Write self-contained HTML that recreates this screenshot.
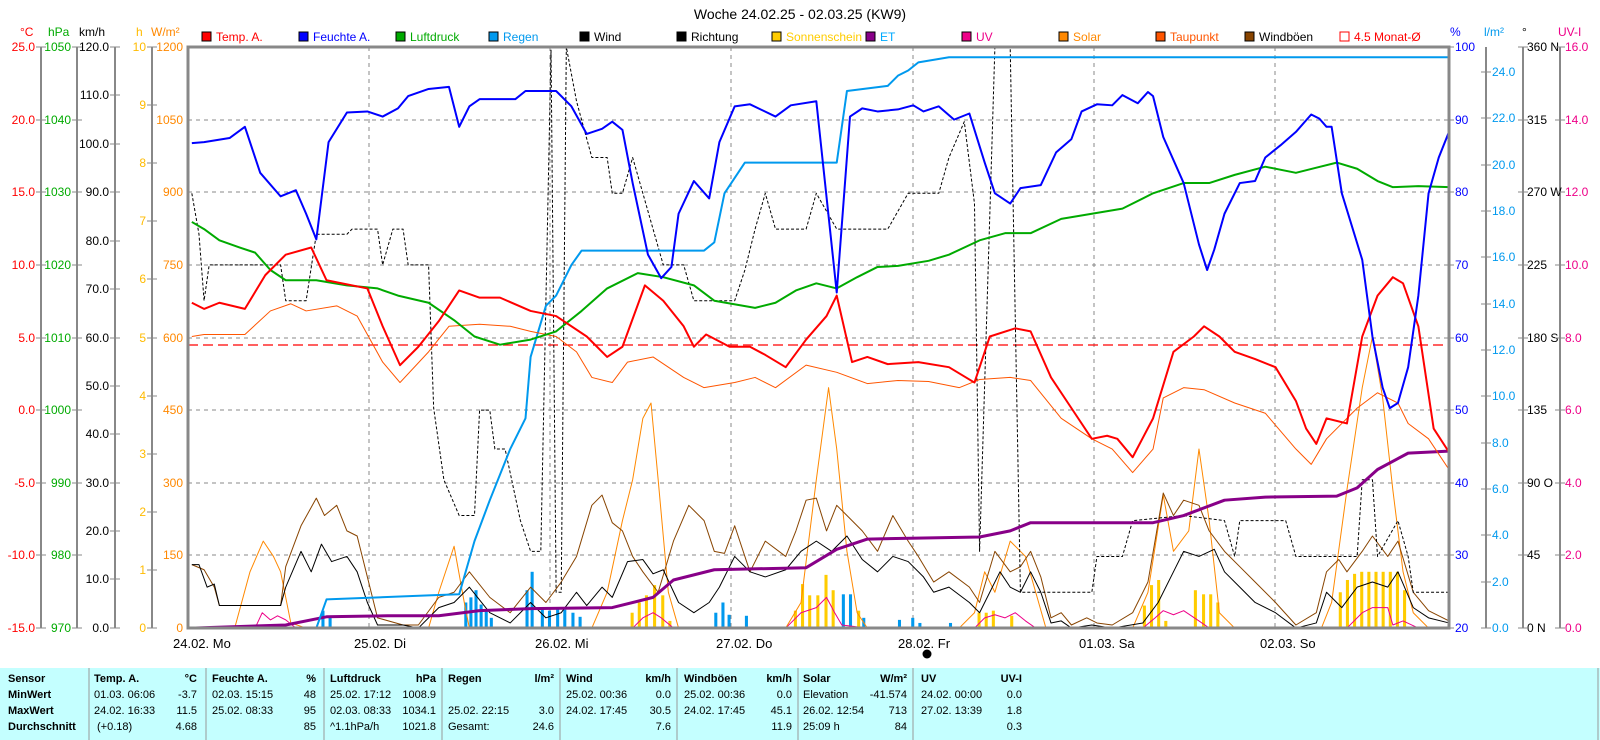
<!DOCTYPE html>
<html><head><meta charset="utf-8"><style>
html,body{margin:0;padding:0;background:#fff;width:1600px;height:740px;overflow:hidden}
svg{display:block;font-family:"Liberation Sans",sans-serif}
.t{font-size:11px;fill:#000}
.b{font-weight:bold}
</style></head><body>
<svg width="1600" height="740" viewBox="0 0 1600 740" xmlns="http://www.w3.org/2000/svg">
<defs><clipPath id="pc"><rect x="188" y="47" width="1261" height="581"/></clipPath></defs>
<text x="800" y="19" text-anchor="middle" font-size="14">Woche 24.02.25 - 02.03.25 (KW9)</text>
<g font-size="12">
<rect x="202" y="32" width="9" height="9" fill="#f00" stroke="#000"/><text x="216" y="41" fill="#f00">Temp. A.</text>
<rect x="299" y="32" width="9" height="9" fill="#00f" stroke="#000"/><text x="313" y="41" fill="#00f">Feuchte A.</text>
<rect x="396" y="32" width="9" height="9" fill="#0a0" stroke="#000"/><text x="410" y="41" fill="#0a0">Luftdruck</text>
<rect x="489" y="32" width="9" height="9" fill="#09e" stroke="#000"/><text x="503" y="41" fill="#09e">Regen</text>
<rect x="580" y="32" width="9" height="9" fill="#000" stroke="#000"/><text x="594" y="41">Wind</text>
<rect x="677" y="32" width="9" height="9" fill="#000" stroke="#000"/><text x="691" y="41">Richtung</text>
<rect x="772" y="32" width="9" height="9" fill="#fc0" stroke="#000"/><text x="786" y="41" fill="#fc0">Sonnenschein</text>
<rect x="866" y="32" width="9" height="9" fill="#808" stroke="#000"/><text x="880" y="41" fill="#0af">ET</text>
<rect x="962" y="32" width="9" height="9" fill="#e08" stroke="#000"/><text x="976" y="41" fill="#e08">UV</text>
<rect x="1059" y="32" width="9" height="9" fill="#f80" stroke="#000"/><text x="1073" y="41" fill="#f80">Solar</text>
<rect x="1156" y="32" width="9" height="9" fill="#f50" stroke="#000"/><text x="1170" y="41" fill="#f50">Taupunkt</text>
<rect x="1245" y="32" width="9" height="9" fill="#840" stroke="#000"/><text x="1259" y="41">Windböen</text>
<rect x="1340" y="32" width="9" height="9" fill="none" stroke="#f00"/><text x="1354" y="41" fill="#f00">4.5 Monat-Ø</text>
</g>
<g font-size="12">
<text x="20" y="36" fill="#f00">°C</text><text x="48" y="36" fill="#0a0">hPa</text><text x="79" y="36">km/h</text>
<text x="136" y="36" fill="#fb0">h</text><text x="151" y="36" fill="#f80">W/m²</text>
<text x="1450" y="36" fill="#00f">%</text><text x="1484" y="36" fill="#09e">l/m²</text><text x="1522" y="36">°</text><text x="1558" y="36" fill="#e08">UV-I</text>
</g>
<g stroke="#888" stroke-width="2">
<line x1="41" y1="47" x2="41" y2="628"/><line x1="77" y1="47" x2="77" y2="628"/><line x1="115" y1="47" x2="115" y2="628"/><line x1="152" y1="47" x2="152" y2="628"/>
<line x1="1486" y1="47" x2="1486" y2="628"/><line x1="1523" y1="47" x2="1523" y2="628"/><line x1="1560" y1="47" x2="1560" y2="628"/>
</g>
<g font-size="12" text-anchor="end">
<g fill="#f00"><text x="35" y="51">25.0</text><text x="35" y="124">20.0</text><text x="35" y="196">15.0</text><text x="35" y="269">10.0</text><text x="35" y="342">5.0</text><text x="35" y="414">0.0</text><text x="35" y="487">-5.0</text><text x="35" y="559">-10.0</text><text x="35" y="632">-15.0</text></g>
<g fill="#0a0"><text x="71" y="51">1050</text><text x="71" y="124">1040</text><text x="71" y="196">1030</text><text x="71" y="269">1020</text><text x="71" y="342">1010</text><text x="71" y="414">1000</text><text x="71" y="487">990</text><text x="71" y="559">980</text><text x="71" y="632">970</text></g>
<g fill="#f80"><text x="183" y="51">1200</text><text x="183" y="124">1050</text><text x="183" y="196">900</text><text x="183" y="269">750</text><text x="183" y="342">600</text><text x="183" y="414">450</text><text x="183" y="487">300</text><text x="183" y="559">150</text><text x="183" y="632">0</text></g>
<g><text x="109" y="51">120.0</text><text x="109" y="99">110.0</text><text x="109" y="148">100.0</text><text x="109" y="196">90.0</text><text x="109" y="245">80.0</text><text x="109" y="293">70.0</text><text x="109" y="342">60.0</text><text x="109" y="390">50.0</text><text x="109" y="438">40.0</text><text x="109" y="487">30.0</text><text x="109" y="535">20.0</text><text x="109" y="583">10.0</text><text x="109" y="632">0.0</text></g>
<g fill="#fb0"><text x="146" y="51">10</text><text x="146" y="109">9</text><text x="146" y="167">8</text><text x="146" y="225">7</text><text x="146" y="283">6</text><text x="146" y="342">5</text><text x="146" y="400">4</text><text x="146" y="458">3</text><text x="146" y="516">2</text><text x="146" y="574">1</text><text x="146" y="632">0</text></g>
</g>
<g font-size="12">
<g fill="#00f"><text x="1455" y="51">100</text><text x="1455" y="124">90</text><text x="1455" y="196">80</text><text x="1455" y="269">70</text><text x="1455" y="342">60</text><text x="1455" y="414">50</text><text x="1455" y="487">40</text><text x="1455" y="559">30</text><text x="1455" y="632">20</text></g>
<g fill="#09e"><text x="1492" y="76">24.0</text><text x="1492" y="122">22.0</text><text x="1492" y="169">20.0</text><text x="1492" y="215">18.0</text><text x="1492" y="261">16.0</text><text x="1492" y="308">14.0</text><text x="1492" y="354">12.0</text><text x="1492" y="400">10.0</text><text x="1492" y="447">8.0</text><text x="1492" y="493">6.0</text><text x="1492" y="539">4.0</text><text x="1492" y="586">2.0</text><text x="1492" y="632">0.0</text></g>
<g><text x="1527" y="51">360 N</text><text x="1527" y="124">315</text><text x="1527" y="196">270 W</text><text x="1527" y="269">225</text><text x="1527" y="342">180 S</text><text x="1527" y="414">135</text><text x="1527" y="487">90  O</text><text x="1527" y="559">45</text><text x="1527" y="632">0  N</text></g>
<g fill="#e08"><text x="1565" y="51">16.0</text><text x="1565" y="124">14.0</text><text x="1565" y="196">12.0</text><text x="1565" y="269">10.0</text><text x="1565" y="342">8.0</text><text x="1565" y="414">6.0</text><text x="1565" y="487">4.0</text><text x="1565" y="559">2.0</text><text x="1565" y="632">0.0</text></g>
</g>
<g stroke="#888" stroke-width="1">
<path d="M36 47h10M36 120h10M36 192h10M36 265h10M36 338h10M36 410h10M36 483h10M36 555h10M36 628h10"/>
<path d="M72 47h10M72 120h10M72 192h10M72 265h10M72 338h10M72 410h10M72 483h10M72 555h10M72 628h10"/>
<path d="M110 47h10M110 95h10M110 144h10M110 192h10M110 241h10M110 289h10M110 338h10M110 386h10M110 434h10M110 483h10M110 531h10M110 579h10M110 628h10"/>
<path d="M147 47h10M147 105h10M147 163h10M147 221h10M147 279h10M147 338h10M147 396h10M147 454h10M147 512h10M147 570h10M147 628h10"/>
<path d="M1449 47h5M1449 120h5M1449 192h5M1449 265h5M1449 338h5M1449 410h5M1449 483h5M1449 555h5M1449 628h5"/>
<path d="M1481 72h10M1481 118h10M1481 165h10M1481 211h10M1481 257h10M1481 304h10M1481 350h10M1481 396h10M1481 443h10M1481 489h10M1481 535h10M1481 582h10M1481 628h10"/>
<path d="M1518 47h10M1518 120h10M1518 192h10M1518 265h10M1518 338h10M1518 410h10M1518 483h10M1518 555h10M1518 628h10"/>
<path d="M1555 47h10M1555 120h10M1555 192h10M1555 265h10M1555 338h10M1555 410h10M1555 483h10M1555 555h10M1555 628h10"/>
</g>
<g stroke="#888" stroke-dasharray="4,4" stroke-width="1">
<path d="M188 120H1449M188 192H1449M188 265H1449M188 338H1449M188 410H1449M188 483H1449M188 555H1449"/>
<path d="M369 47V628M550 47V628M731 47V628M913 47V628M1094 47V628M1275 47V628"/>
</g>
<line x1="188" y1="345" x2="1449" y2="345" stroke="#f00" stroke-dasharray="10,5" stroke-width="1.3"/>
<g clip-path="url(#pc)">
<g transform="matrix(1.0204 0 0 1.023 0 -1.08)" fill="none" stroke-linejoin="round">
<g fill="#09e" stroke="none">
<rect x="315" y="598" width="3" height="17"/><rect x="322" y="603" width="3" height="12"/>
<rect x="455" y="590" width="3" height="25"/><rect x="460" y="585" width="3" height="30"/><rect x="465" y="578" width="3" height="37"/><rect x="470" y="592" width="3" height="23"/><rect x="475" y="598" width="3" height="17"/><rect x="480" y="605" width="3" height="10"/>
<rect x="515" y="578" width="3" height="37"/><rect x="520" y="560" width="3" height="55"/><rect x="530" y="595" width="3" height="20"/><rect x="537" y="598" width="3" height="17"/><rect x="545" y="596" width="3" height="19"/><rect x="552" y="597" width="3" height="18"/><rect x="560" y="600" width="3" height="15"/><rect x="567" y="604" width="3" height="11"/>
<rect x="700" y="600" width="3" height="15"/><rect x="707" y="590" width="3" height="25"/><rect x="713" y="602" width="3" height="13"/><rect x="730" y="603" width="3" height="12"/>
<rect x="825" y="582" width="3" height="33"/><rect x="832" y="582" width="3" height="33"/><rect x="845" y="605" width="3" height="10"/>
<rect x="880" y="607" width="3" height="8"/><rect x="893" y="605" width="3" height="10"/><rect x="900" y="610" width="3" height="5"/><rect x="930" y="610" width="3" height="5"/>
</g>
<g fill="#fc0" stroke="none">
<rect x="618" y="600" width="3" height="15"/><rect x="625" y="590" width="3" height="25"/><rect x="632" y="583" width="3" height="32"/><rect x="640" y="573" width="3" height="42"/><rect x="648" y="583" width="3" height="32"/><rect x="655" y="608" width="3" height="7"/>
<rect x="778" y="598" width="3" height="17"/><rect x="785" y="572" width="3" height="43"/><rect x="792" y="583" width="3" height="32"/><rect x="800" y="583" width="3" height="32"/><rect x="808" y="563" width="3" height="52"/><rect x="815" y="578" width="3" height="37"/><rect x="840" y="598" width="3" height="17"/>
<rect x="958" y="600" width="3" height="15"/><rect x="965" y="600" width="3" height="15"/><rect x="972" y="598" width="3" height="17"/><rect x="990" y="603" width="3" height="12"/>
<rect x="1120" y="593" width="3" height="22"/><rect x="1127" y="573" width="3" height="42"/><rect x="1134" y="568" width="3" height="47"/><rect x="1141" y="608" width="3" height="7"/><rect x="1170" y="578" width="3" height="37"/><rect x="1178" y="582" width="3" height="33"/><rect x="1185" y="582" width="3" height="33"/><rect x="1192" y="590" width="3" height="25"/>
<rect x="1312" y="580" width="3" height="35"/><rect x="1319" y="568" width="3" height="47"/><rect x="1326" y="562" width="3" height="53"/><rect x="1333" y="560" width="3" height="55"/><rect x="1340" y="560" width="3" height="55"/><rect x="1347" y="560" width="3" height="55"/><rect x="1354" y="560" width="3" height="55"/><rect x="1361" y="560" width="3" height="55"/><rect x="1368" y="560" width="3" height="55"/><rect x="1375" y="578" width="3" height="37"/>
</g>
<polyline vector-effect="non-scaling-stroke" stroke="#e08" stroke-width="1" points="188,615 250,615 257,600 265,607 272,603 280,607 290,615 620,615 630,605 640,600 648,605 660,615 770,615 785,600 800,595 810,585 818,600 825,612 850,615 955,615 965,605 975,602 985,605 995,600 1005,608 1015,615 1120,615 1132,605 1140,598 1150,602 1160,598 1175,608 1185,615 1320,615 1335,600 1345,595 1360,595 1365,612 1375,608 1390,615 1420,615"/>
<polyline vector-effect="non-scaling-stroke" stroke="#f80" stroke-width="1" points="188,615 230,615 245,560 258,530 268,545 275,560 285,610 300,615 420,615 430,580 445,535 455,590 460,615 580,615 595,580 610,510 620,470 630,410 638,395 645,470 655,580 665,615 770,615 785,590 800,470 812,380 820,440 830,540 840,600 850,615 940,615 955,600 965,560 975,580 990,530 1005,545 1015,580 1025,615 1110,615 1125,580 1140,485 1150,540 1165,520 1175,440 1185,510 1195,600 1210,615 1295,615 1305,590 1320,480 1335,380 1345,330 1355,390 1365,480 1375,560 1385,600 1400,615 1420,615"/>
<polyline vector-effect="non-scaling-stroke" stroke="#840" stroke-width="1" points="188,553 200,558 210,575 215,593 275,593 280,555 295,515 310,488 318,505 330,495 340,520 350,525 360,565 370,605 395,612 410,612 430,585 445,580 460,560 480,585 500,600 520,575 535,590 550,570 565,545 580,495 590,485 600,512 610,520 620,545 630,560 645,580 660,530 675,495 690,510 700,540 710,542 720,515 735,560 750,530 770,545 780,520 790,490 800,488 810,520 820,495 830,505 845,520 860,540 875,505 890,530 900,545 915,570 930,560 950,575 960,590 975,540 990,560 1000,555 1010,540 1020,565 1030,605 1040,600 1050,612 1065,605 1075,610 1090,612 1110,600 1125,570 1140,483 1150,505 1160,490 1175,495 1185,520 1200,540 1215,555 1230,570 1250,590 1270,612 1290,600 1300,560 1312,548 1320,560 1335,540 1345,525 1360,545 1370,530 1385,580 1400,598 1420,608"/>
<polyline vector-effect="non-scaling-stroke" stroke="#000" stroke-width="1" points="188,553 195,553 203,575 210,572 215,593 275,593 280,575 295,540 305,560 315,533 325,550 340,545 350,560 360,590 370,612 395,612 410,615 430,595 445,590 460,575 480,600 500,610 520,590 535,605 550,600 565,580 575,593 590,575 600,585 615,550 630,548 640,562 650,558 665,590 680,600 695,590 705,575 720,545 735,560 750,565 770,558 785,540 800,530 815,540 830,525 845,548 860,560 875,545 890,550 905,565 915,580 930,575 950,590 960,600 980,560 990,575 1000,580 1010,560 1020,580 1030,610 1040,608 1050,615 1070,612 1090,615 1120,610 1135,590 1150,560 1160,540 1175,545 1190,538 1200,560 1215,575 1230,590 1250,600 1270,615 1290,610 1300,580 1315,595 1330,575 1345,570 1360,575 1370,560 1385,595 1400,605 1420,610"/>
<polyline vector-effect="non-scaling-stroke" stroke="#000" stroke-width="1" stroke-dasharray="3,2" points="188,190 195,230 200,295 205,260 275,260 280,295 300,295 310,230 340,230 345,225 370,225 375,260 385,225 395,225 400,260 420,260 425,400 435,470 450,505 465,505 470,402 480,402 485,440 495,440 510,510 520,540 530,540 540,50 545,580 550,580 555,47 565,100 580,155 595,155 600,190 610,190 620,155 630,190 650,260 670,260 680,295 720,295 730,265 740,225 750,190 760,225 790,225 800,190 820,225 870,225 890,190 920,190 930,155 945,120 955,200 960,540 975,47 990,47 1000,580 1030,580 1070,580 1075,545 1100,545 1110,510 1160,505 1200,510 1210,545 1215,510 1260,510 1270,545 1330,545 1335,470 1345,470 1350,545 1370,510 1380,545 1385,580 1420,580"/>
<polyline vector-effect="non-scaling-stroke" stroke="#808" stroke-width="3" points="188,615 280,612 320,604 380,603 430,603 470,598 520,596 600,595 640,585 660,568 700,558 790,556 820,538 850,528 960,526 990,520 1010,512 1130,512 1160,505 1200,490 1240,487 1310,486 1330,478 1350,460 1380,444 1420,442"/>
<polyline vector-effect="non-scaling-stroke" stroke="#09e" stroke-width="2" points="188,615 310,615 320,587 420,583 450,582 465,530 480,490 500,440 515,410 520,350 535,300 545,290 560,260 570,246 690,246 700,238 710,190 730,160 820,160 830,90 870,85 880,75 890,70 900,62 930,57 1500,57"/>
<polyline vector-effect="non-scaling-stroke" stroke="#f50" stroke-width="1" points="188,330 200,328 240,328 265,305 285,298 300,305 330,300 350,310 375,355 392,375 420,345 440,320 470,318 500,320 520,325 545,330 565,345 580,370 600,375 615,355 640,350 670,370 690,380 720,375 740,370 760,380 790,358 820,365 850,376 880,373 910,374 940,380 960,372 990,370 1010,373 1040,410 1070,430 1090,440 1110,463 1130,440 1140,390 1160,380 1180,382 1210,395 1240,405 1270,440 1285,455 1300,430 1330,400 1350,385 1370,395 1380,415 1400,430 1420,460"/>
<polyline vector-effect="non-scaling-stroke" stroke="#0a0" stroke-width="2" points="188,218 200,225 215,236 235,243 250,248 265,265 280,275 310,275 340,280 370,283 390,290 420,297 445,314 465,330 490,338 520,333 545,325 570,305 595,283 625,268 650,272 680,280 700,295 740,302 760,297 780,285 800,278 820,283 840,272 860,262 880,261 910,256 930,250 960,236 985,229 1010,229 1040,215 1070,210 1100,205 1130,190 1160,180 1185,180 1210,172 1240,164 1270,170 1290,165 1310,160 1330,166 1350,178 1365,184 1390,183 1420,184"/>
<polyline vector-effect="non-scaling-stroke" stroke="#f00" stroke-width="2" points="188,297 200,303 215,297 240,303 260,270 280,250 305,243 320,275 360,283 375,320 392,358 410,340 430,315 450,285 470,292 490,292 520,305 545,310 575,330 595,350 610,340 632,280 650,295 670,320 680,340 692,328 715,340 735,340 750,348 770,360 790,333 810,310 820,290 835,355 850,350 870,357 900,355 930,360 955,375 970,330 995,322 1010,325 1030,370 1050,400 1070,430 1085,427 1095,430 1110,448 1130,410 1150,345 1170,330 1180,320 1195,330 1210,345 1230,352 1250,360 1270,393 1280,420 1290,435 1300,410 1320,415 1335,330 1350,290 1365,272 1375,278 1390,320 1405,420 1420,443"/>
<polyline vector-effect="non-scaling-stroke" stroke="#00f" stroke-width="2" points="188,141 200,140 225,136 240,125 255,170 275,193 290,187 300,210 310,235 322,140 340,111 360,110 375,115 390,107 400,95 420,88 440,86 450,125 460,105 470,98 505,98 515,90 545,90 560,105 575,132 590,127 600,120 610,128 620,180 635,250 648,273 658,262 665,210 680,178 695,195 705,140 720,105 735,103 760,115 775,104 800,100 820,287 833,115 845,107 860,110 880,108 895,104 905,110 920,105 935,118 950,112 965,160 975,190 990,200 1000,185 1020,182 1035,150 1050,137 1060,110 1075,103 1090,104 1100,94 1115,102 1125,91 1130,95 1140,135 1160,180 1175,240 1183,265 1190,245 1200,210 1215,180 1230,178 1240,155 1255,143 1270,130 1285,113 1293,117 1300,125 1305,125 1315,190 1335,255 1345,330 1355,380 1362,400 1370,395 1380,360 1390,290 1400,190 1410,155 1420,130"/>
</g>
</g>
<rect x="188" y="47" width="1261" height="581" fill="none" stroke="#888" stroke-width="3"/>
<g font-size="13">
<text x="173" y="648">24.02.  Mo</text><text x="354" y="648">25.02.  Di</text><text x="535" y="648">26.02.  Mi</text><text x="716" y="648">27.02.  Do</text><text x="898" y="648">28.02.  Fr</text><text x="1079" y="648">01.03.  Sa</text><text x="1260" y="648">02.03.  So</text>
</g>
<circle cx="927" cy="654" r="4.5" fill="#000"/>
<rect x="0" y="668" width="1600" height="72" fill="#c4ffff"/>
<g stroke="#999" stroke-width="1">
<path d="M89 668V740M206 668V740M324 668V740M442 668V740M560 668V740M677 668V740M798 668V740M913 668V740M1598 668V740"/>
</g>
<g class="t">
<g class="b"><text x="8" y="682">Sensor</text><text x="8" y="698">MinWert</text><text x="8" y="714">MaxWert</text><text x="8" y="730">Durchschnitt</text>
<text x="94" y="682">Temp. A.</text><text x="197" y="682" text-anchor="end">°C</text>
<text x="212" y="682">Feuchte A.</text><text x="316" y="682" text-anchor="end">%</text>
<text x="330" y="682">Luftdruck</text><text x="436" y="682" text-anchor="end">hPa</text>
<text x="448" y="682">Regen</text><text x="554" y="682" text-anchor="end">l/m²</text>
<text x="566" y="682">Wind</text><text x="671" y="682" text-anchor="end">km/h</text>
<text x="684" y="682">Windböen</text><text x="792" y="682" text-anchor="end">km/h</text>
<text x="803" y="682">Solar</text><text x="907" y="682" text-anchor="end">W/m²</text>
<text x="921" y="682">UV</text><text x="1022" y="682" text-anchor="end">UV-I</text></g>
<text x="94" y="698">01.03.  06:06</text><text x="197" y="698" text-anchor="end">-3.7</text>
<text x="94" y="714">24.02.  16:33</text><text x="197" y="714" text-anchor="end">11.5</text>
<text x="97" y="730">(+0.18)</text><text x="197" y="730" text-anchor="end">4.68</text>
<text x="212" y="698">02.03.  15:15</text><text x="316" y="698" text-anchor="end">48</text>
<text x="212" y="714">25.02.  08:33</text><text x="316" y="714" text-anchor="end">95</text>
<text x="316" y="730" text-anchor="end">85</text>
<text x="330" y="698">25.02.  17:12</text><text x="436" y="698" text-anchor="end">1008.9</text>
<text x="330" y="714">02.03.  08:33</text><text x="436" y="714" text-anchor="end">1034.1</text>
<text x="330" y="730">^1.1hPa/h</text><text x="436" y="730" text-anchor="end">1021.8</text>
<text x="448" y="714">25.02.  22:15</text><text x="554" y="714" text-anchor="end">3.0</text>
<text x="448" y="730">Gesamt:</text><text x="554" y="730" text-anchor="end">24.6</text>
<text x="566" y="698">25.02.  00:36</text><text x="671" y="698" text-anchor="end">0.0</text>
<text x="566" y="714">24.02.  17:45</text><text x="671" y="714" text-anchor="end">30.5</text>
<text x="671" y="730" text-anchor="end">7.6</text>
<text x="684" y="698">25.02.  00:36</text><text x="792" y="698" text-anchor="end">0.0</text>
<text x="684" y="714">24.02.  17:45</text><text x="792" y="714" text-anchor="end">45.1</text>
<text x="792" y="730" text-anchor="end">11.9</text>
<text x="803" y="698">Elevation</text><text x="907" y="698" text-anchor="end">-41.574</text>
<text x="803" y="714">26.02.  12:54</text><text x="907" y="714" text-anchor="end">713</text>
<text x="803" y="730">25:09 h</text><text x="907" y="730" text-anchor="end">84</text>
<text x="921" y="698">24.02.  00:00</text><text x="1022" y="698" text-anchor="end">0.0</text>
<text x="921" y="714">27.02.  13:39</text><text x="1022" y="714" text-anchor="end">1.8</text>
<text x="1022" y="730" text-anchor="end">0.3</text>
</g>
</svg>
</body></html>
